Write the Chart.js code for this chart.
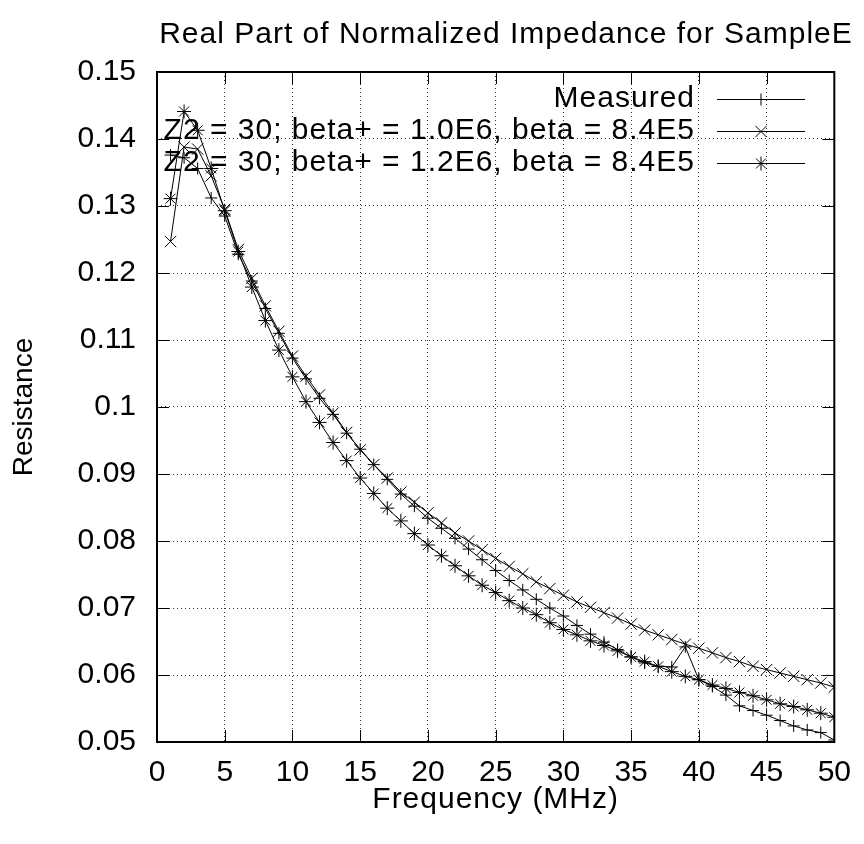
<!DOCTYPE html>
<html>
<head>
<meta charset="utf-8">
<script src="https://cdn.jsdelivr.net/npm/chart.js@4.4.1/dist/chart.umd.min.js"></script>
<style>
  html, body { margin: 0; padding: 0; background: #fff; }
  #wrap { width: 864px; height: 844px; }
</style>
</head>
<body>
<div id="wrap"><canvas id="grafico" width="864" height="844"></canvas></div>
<script>
// Frequência (MHz)
const frequencias = [1, 2, 3, 4, 5, 6, 7, 8, 9, 10, 11, 12, 13, 14, 15, 16, 17, 18, 19, 20,
  21, 22, 23, 24, 25, 26, 27, 28, 29, 30, 31, 32, 33, 34, 35, 36, 37, 38, 39, 40,
  41, 42, 43, 44, 45, 46, 47, 48, 49, 50];

// Medido
const medido = [0.1376, 0.1372, 0.1356, 0.1312, 0.1285, 0.1228, 0.1188, 0.1147, 0.1110, 0.1073,
  0.1042, 0.1013, 0.0989, 0.0961, 0.0937, 0.0914, 0.0892, 0.0870, 0.0852, 0.0834,
  0.0819, 0.0804, 0.0788, 0.0772, 0.0756, 0.0741, 0.0727, 0.0713, 0.0700, 0.0688,
  0.0674, 0.0661, 0.0649, 0.0638, 0.0627, 0.0618, 0.0613, 0.0612, 0.0642, 0.0593,
  0.0583, 0.0570, 0.0554, 0.0547, 0.0540, 0.0532, 0.0524, 0.0518, 0.0514, 0.0503];

// Z2 = 30; beta+ = 1.0E6
const beta10 = [0.1247, 0.1388, 0.1385, 0.1345, 0.1295, 0.1235, 0.1192, 0.1151, 0.1113, 0.1076,
  0.1046, 0.1018, 0.0991, 0.0962, 0.0936, 0.0914, 0.0894, 0.0873, 0.0858, 0.0842,
  0.0827, 0.0812, 0.0800, 0.0787, 0.0774, 0.0762, 0.0751, 0.0739, 0.0729, 0.0719,
  0.0709, 0.0701, 0.0693, 0.0685, 0.0676, 0.0667, 0.0660, 0.0653, 0.0646, 0.0640,
  0.0633, 0.0626, 0.0620, 0.0613, 0.0608, 0.0603, 0.0598, 0.0593, 0.0588, 0.0582];

// Z2 = 30; beta+ = 1.2E6
const beta12 = [0.1311, 0.1441, 0.1413, 0.1356, 0.1293, 0.1232, 0.1179, 0.1129, 0.1085, 0.1045,
  0.1008, 0.0977, 0.0947, 0.0920, 0.0894, 0.0871, 0.0849, 0.0830, 0.0811, 0.0794,
  0.0778, 0.0763, 0.0748, 0.0734, 0.0723, 0.0711, 0.0700, 0.0690, 0.0678, 0.0668,
  0.0660, 0.0651, 0.0644, 0.0636, 0.0627, 0.0620, 0.0613, 0.0605, 0.0598, 0.0593,
  0.0585, 0.0580, 0.0574, 0.0569, 0.0563, 0.0557, 0.0553, 0.0548, 0.0543, 0.0537];

const ticksX = [0, 5, 10, 15, 20, 25, 30, 35, 40, 45, 50];
const ticksY = [0.05, 0.06, 0.07, 0.08, 0.09, 0.1, 0.11, 0.12, 0.13, 0.14, 0.15];

const legendas = [
  'Measured',
  'Z2 = 30; beta+ = 1.0E6, beta = 8.4E5',
  'Z2 = 30; beta+ = 1.2E6, beta = 8.4E5'
];
const marcadores = ['cross', 'crossRot', 'star'];
const raios = [6, 8, 7];

const fonte = '"Liberation Sans", Arial, Helvetica, sans-serif';

// Moldura, marcas internas, títulos e legenda no estilo gnuplot
const estiloGnuplot = {
  id: 'estiloGnuplot',
  afterDraw(chart) {
    const { ctx, chartArea: a, scales } = chart;
    ctx.save();
    ctx.strokeStyle = '#000';
    ctx.lineWidth = 1;
    const t = 12;
    ctx.beginPath();
    ticksX.forEach(v => {
      const x = Math.round(scales.x.getPixelForValue(v)) + 0.5;
      ctx.moveTo(x, a.bottom); ctx.lineTo(x, a.bottom - t);
      ctx.moveTo(x, a.top); ctx.lineTo(x, a.top + t);
    });
    ticksY.forEach(v => {
      const y = Math.round(scales.y.getPixelForValue(v)) + 0.5;
      ctx.moveTo(a.left, y); ctx.lineTo(a.left + t, y);
      ctx.moveTo(a.right, y); ctx.lineTo(a.right - t, y);
    });
    ctx.stroke();
    ctx.lineWidth = 2;
    ctx.strokeRect(a.left, a.top, a.right - a.left, a.bottom - a.top);

    ctx.fillStyle = '#000';
    ctx.font = '30px ' + fonte;
    ctx.letterSpacing = '1px';
    ctx.textBaseline = 'middle';

    // título
    ctx.textAlign = 'center';
    ctx.fillText('Real Part of Normalized Impedance for SampleE', 506, 35);
    ctx.fillText('Frequency (MHz)', (a.left + a.right) / 2, 800);

    ctx.save();
    ctx.translate(24, (a.top + a.bottom) / 2);
    ctx.rotate(-Math.PI / 2);
    ctx.font = '28px ' + fonte;
    ctx.letterSpacing = '0px';
    ctx.fillText('Resistance', 0, 0);
    ctx.restore();

    // legenda
    ctx.textAlign = 'right';
    ctx.lineWidth = 1;
    legendas.forEach((txt, i) => {
      const y = 99 + i * 32;
      ctx.fillText(txt, 695, y);
      ctx.beginPath();
      ctx.moveTo(717, y + 0.5); ctx.lineTo(805, y + 0.5);
      ctx.stroke();
      Chart.helpers.drawPoint(ctx, { pointStyle: marcadores[i], radius: raios[i], rotation: 0, borderWidth: 1 }, 761, y + 0.5);
    });
    ctx.restore();
  }
};

function serie(valores, i) {
  return {
    label: legendas[i],
    data: frequencias.map((f, k) => ({ x: f, y: valores[k] })),
    borderColor: '#000',
    borderWidth: 1,
    pointStyle: marcadores[i],
    pointRadius: raios[i],
    pointBorderColor: '#000',
    pointBorderWidth: 1,
    pointBackgroundColor: 'rgba(0,0,0,0)',
    tension: 0,
    fill: false
  };
}

window.addEventListener('DOMContentLoaded', () => {
  const ctx = document.getElementById('grafico').getContext('2d');
  new Chart(ctx, {
    type: 'line',
    data: {
      datasets: [serie(medido, 0), serie(beta10, 1), serie(beta12, 2)]
    },
    options: {
      responsive: false,
      animation: false,
      events: [],
      layout: { padding: { top: 72, right: 21, left: 0, bottom: 0 } },
      plugins: { legend: { display: false }, title: { display: false }, tooltip: { enabled: false } },
      scales: {
        x: {
          type: 'linear',
          min: 0, max: 50,
          afterBuildTicks: s => { s.ticks = ticksX.map(v => ({ value: v })); },
          afterFit: s => { s.height = 102; },
          grid: { color: '#333', lineWidth: 1, drawTicks: false },
          border: { display: false, dash: [1, 3] },
          ticks: { color: '#000', font: { family: fonte, size: 30 }, padding: 13, maxRotation: 0, autoSkip: false },
          title: { display: false }
        },
        y: {
          type: 'linear',
          min: 0.05, max: 0.15,
          afterBuildTicks: s => { s.ticks = ticksY.map(v => ({ value: v })); },
          afterFit: s => { s.width = 157; },
          grid: { color: '#333', lineWidth: 1, drawTicks: false },
          border: { display: false, dash: [1, 3] },
          ticks: { color: '#000', font: { family: fonte, size: 30 }, padding: 21, autoSkip: false,
                   callback: v => String(+v.toFixed(2)) },
          title: { display: false }
        }
      }
    },
    plugins: [estiloGnuplot]
  });
});
</script>
</body>
</html>
